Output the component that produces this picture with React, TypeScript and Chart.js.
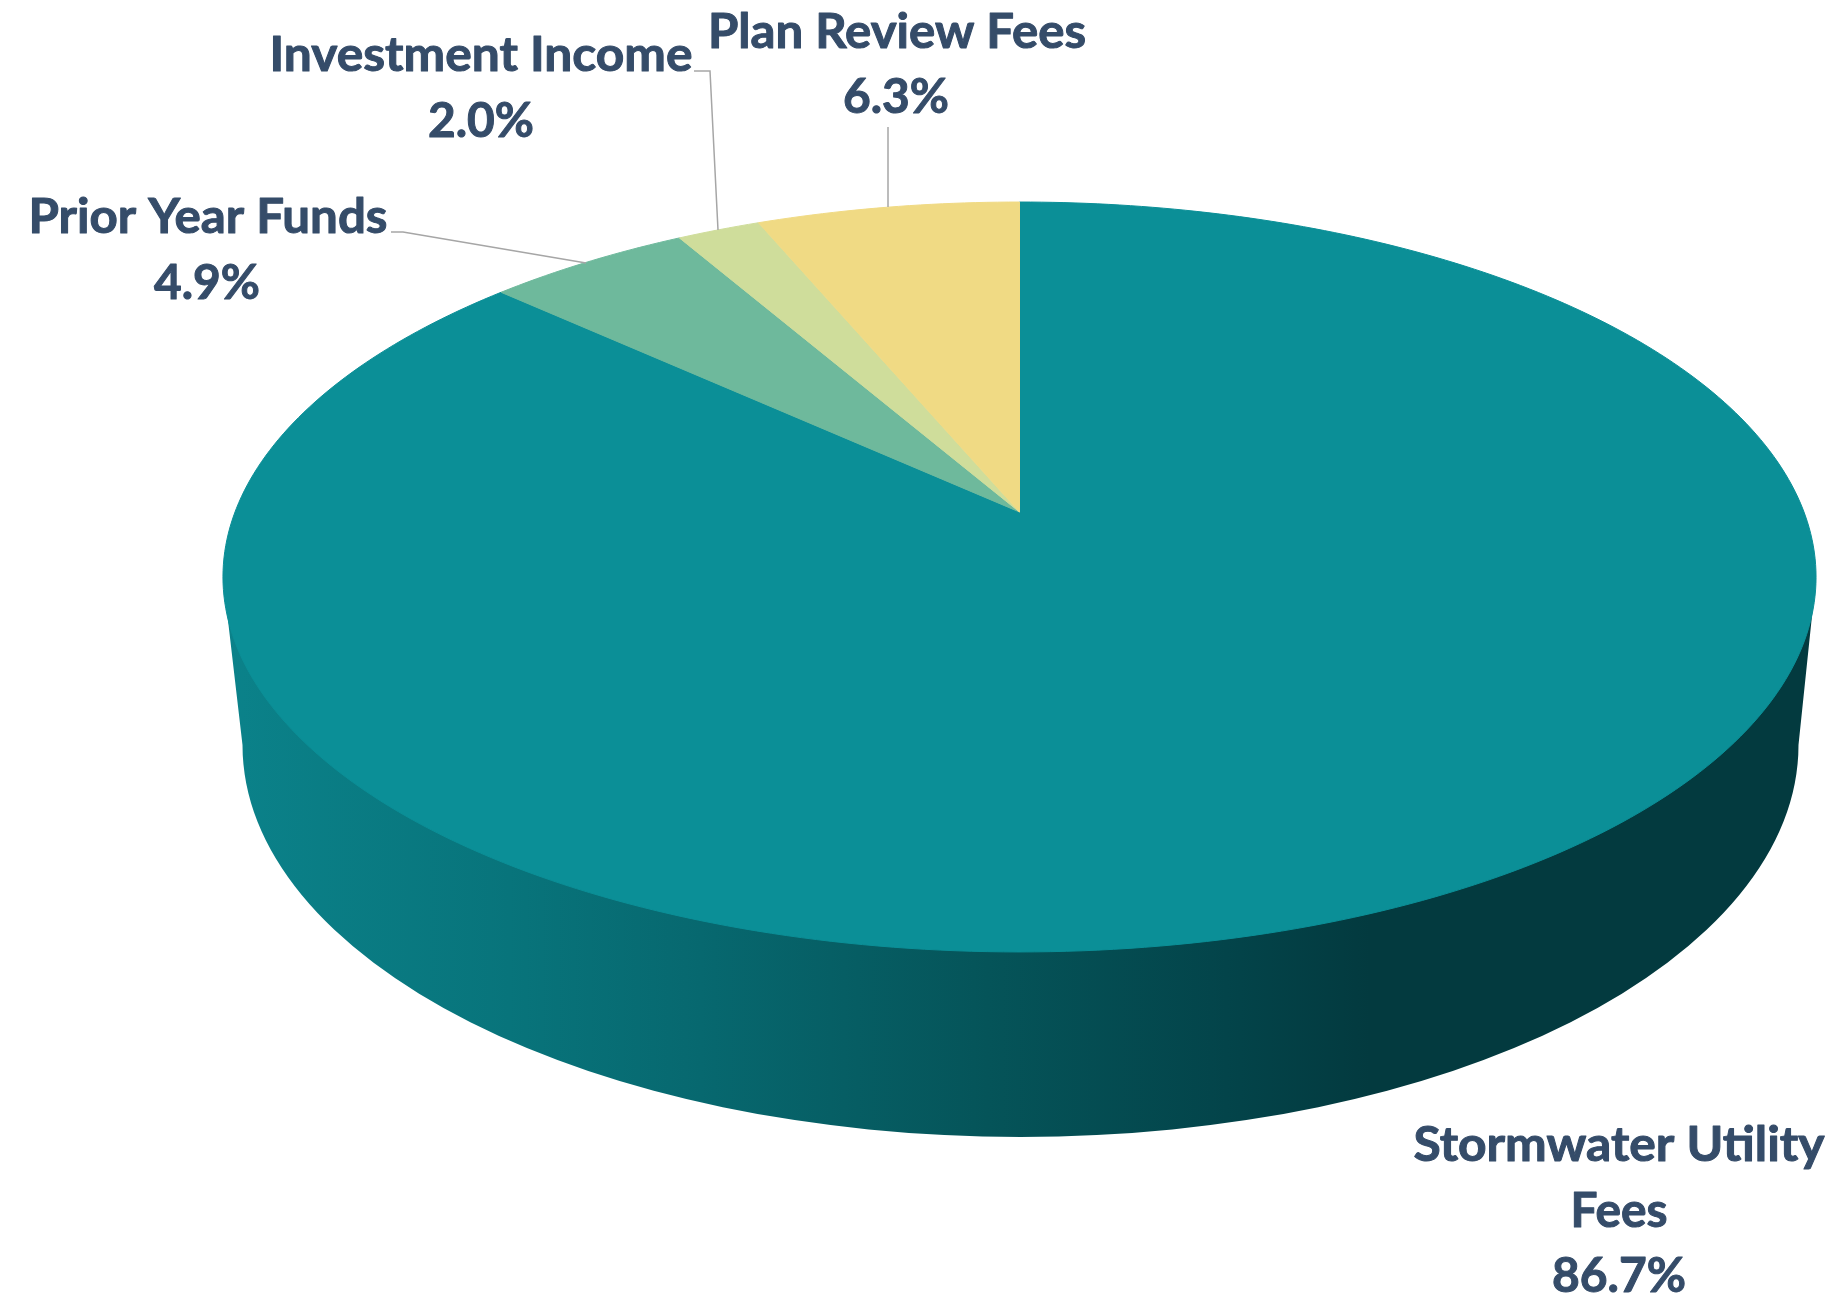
import React, { useEffect, useRef } from "react";
import { Chart, registerables } from "chart.js";

Chart.register(...registerables);

const categories = ["Stormwater Utility Fees", "Prior Year Funds", "Investment Income", "Plan Review Fees"];
const shares = [86.7, 4.9, 2.0, 6.3];
const sliceColors = ["#0b8f97", "#6eb99c", "#cfdd9b", "#f0da84"];

// Perspective of the pie's top face
const VIEW = { cx: 1019.5, cy: 512, a: 784.5, b: 363.7, k: 0.1733 };
// Lower rim of the pie's wall
const RIM = { cx: 1020.5, cy: 745, rx: 778, ry: 392 };
const WALL_STOPS: [number, string][] = [
  [0, "#0b828a"],
  [0.18, "#08747b"],
  [0.3, "#07686f"],
  [0.48, "#055459"],
  [0.63, "#03444a"],
  [0.72, "#033a3f"],
  [1, "#033a3f"],
];

const TEXT_COLOR = "#354c69";
const FONT = "bold 48px Lato, sans-serif";
// text lines with centre x, baseline y, and target width
const LABEL_LAYOUT: { x: number; y: number; w: number; slice: number; part: "name" | "name1" | "name2" | "pct" }[] = [
  { x: 897, y: 48, w: 378, slice: 3, part: "name" },
  { x: 896, y: 113, w: 106, slice: 3, part: "pct" },
  { x: 481, y: 71, w: 423, slice: 2, part: "name" },
  { x: 481, y: 137, w: 106, slice: 2, part: "pct" },
  { x: 208, y: 233, w: 359, slice: 1, part: "name" },
  { x: 207, y: 299, w: 106, slice: 1, part: "pct" },
  { x: 1619, y: 1161, w: 411, slice: 0, part: "name1" },
  { x: 1619, y: 1227, w: 97, slice: 0, part: "name2" },
  { x: 1619, y: 1292, w: 134, slice: 0, part: "pct" },
];
const LEADERS: number[][][] = [
  [[888, 127], [888, 207]],
  [[694, 71], [710, 71], [718, 230]],
  [[391, 232], [403, 232], [586, 263]],
];

function project(angle: number): [number, number] {
  const u = Math.cos(angle);
  const v = -Math.sin(angle);
  const d = 1 + VIEW.k * v;
  return [VIEW.cx + (VIEW.a * u) / d, VIEW.cy - (VIEW.b * v) / d];
}

const pie3d = {
  id: "pie3d",
  beforeDatasetDraw(chart: any) {
    const ctx: CanvasRenderingContext2D = chart.ctx;
    const arcs = chart.getDatasetMeta(0).data;

    // Wall
    const widest = Math.asin(VIEW.k);
    const left = project(Math.PI - widest);
    const right = project(widest);
    const grad = ctx.createLinearGradient(223, 0, 1816, 0);
    WALL_STOPS.forEach(([s, c]) => grad.addColorStop(s, c));
    ctx.save();
    ctx.fillStyle = grad;
    ctx.beginPath();
    ctx.moveTo(left[0], left[1]);
    ctx.ellipse(RIM.cx, RIM.cy, RIM.rx, RIM.ry, 0, Math.PI, 0, true);
    ctx.lineTo(right[0], right[1]);
    ctx.closePath();
    ctx.fill();

    // Top face, from the library's slice angles
    ctx.lineJoin = "round";
    ctx.lineWidth = 1;
    arcs.forEach((arc: any) => {
      const { startAngle, endAngle } = arc.getProps(["startAngle", "endAngle"], true);
      ctx.beginPath();
      ctx.moveTo(VIEW.cx, VIEW.cy);
      const steps = Math.max(8, Math.ceil((endAngle - startAngle) * 60));
      for (let i = 0; i <= steps; i++) {
        const p = project(startAngle + ((endAngle - startAngle) * i) / steps);
        ctx.lineTo(p[0], p[1]);
      }
      ctx.closePath();
      ctx.fillStyle = arc.options.backgroundColor;
      ctx.strokeStyle = arc.options.backgroundColor;
      ctx.fill();
      ctx.stroke();
    });
    ctx.restore();
    return false;
  },
  afterDraw(chart: any) {
    const ctx: CanvasRenderingContext2D = chart.ctx;
    const values: number[] = chart.data.datasets[0].data;
    const names: string[] = chart.data.labels;
    ctx.save();
    ctx.strokeStyle = "#a6a6a6";
    ctx.lineWidth = 1.5;
    LEADERS.forEach((line) => {
      ctx.beginPath();
      line.forEach(([x, y], i) => (i ? ctx.lineTo(x, y) : ctx.moveTo(x, y)));
      ctx.stroke();
    });
    ctx.fillStyle = TEXT_COLOR;
    ctx.strokeStyle = TEXT_COLOR;
    ctx.lineWidth = 1;
    ctx.lineJoin = "round";
    ctx.font = FONT;
    ctx.textAlign = "left";
    ctx.textBaseline = "alphabetic";
    LABEL_LAYOUT.forEach((l) => {
      const name = names[l.slice];
      let text = name;
      if (l.part === "pct") text = values[l.slice].toFixed(1) + "%";
      else if (l.part === "name1") text = name.slice(0, name.lastIndexOf(" "));
      else if (l.part === "name2") text = name.slice(name.lastIndexOf(" ") + 1);
      const m = ctx.measureText(text).width;
      ctx.save();
      ctx.translate(l.x - l.w / 2, l.y);
      ctx.scale(l.w / m, 1);
      ctx.fillText(text, 0, 0);
      ctx.strokeText(text, 0, 0);
      ctx.restore();
    });
    ctx.restore();
  },
};

export default function App() {
  const ref = useRef<HTMLCanvasElement | null>(null);
  useEffect(() => {
    document.body.style.margin = "0";
    const chart = new Chart(ref.current as HTMLCanvasElement, {
      type: "pie",
      data: {
        labels: categories,
        datasets: [{ data: shares, backgroundColor: sliceColors, borderWidth: 0 }],
      },
      options: {
        animation: false,
        responsive: false,
        plugins: { legend: { display: false }, tooltip: { enabled: false } },
      },
      plugins: [pie3d],
    } as any);
    return () => chart.destroy();
  }, []);
  return (
    <canvas
      ref={ref}
      width={1836}
      height={1298}
      style={{ display: "block", width: 1836, height: 1298, background: "#ffffff" }}
    />
  );
}
